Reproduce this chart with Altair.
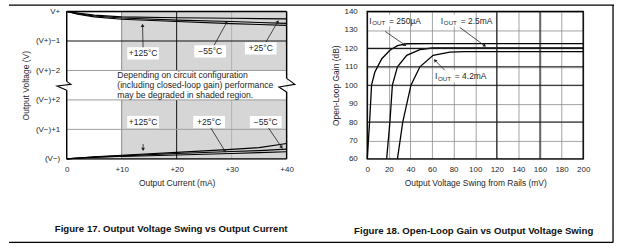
import json
import math
import altair as alt
import pandas as pd

FONT = "Liberation Sans"
INK = "#1f1f1f"

# ---------------- Figure 17: Output Voltage Swing vs Output Current ----------------
current_ma = [0, 2, 5, 10, 20, 30, 35, 40]
high_125 = [5.00, 4.95, 4.88, 4.82, 4.79, 4.77, 4.76, 4.75]
high_25 = [5.00, 4.93, 4.85, 4.78, 4.71, 4.66, 4.63, 4.60]
high_m55 = [5.00, 4.91, 4.82, 4.74, 4.66, 4.59, 4.56, 4.53]
low_125 = [0.00, 0.02, 0.05, 0.08, 0.13, 0.18, 0.21, 0.24]
low_25 = [0.00, 0.03, 0.06, 0.10, 0.18, 0.25, 0.28, 0.33]
low_m55 = [0.00, 0.03, 0.07, 0.12, 0.22, 0.32, 0.38, 0.52]

x17_ticks = [0, 10, 20, 30, 40]
x17_labels = ["0", "+10", "+20", "+30", "+40"]
y17_ticks = [0, 1, 2, 3, 4, 5]
y17_labels = ["(V−)", "(V−)+1", "(V−)+2", "(V+)−2", "(V+)−1", "V+"]

shade_x1 = [10, 10]
shade_x2 = [40, 40]
shade_y1 = [0, 3]
shade_y2 = [2, 5]

vgrid_x = [10, 10, 20, 20, 30, 30]
vgrid_y1 = [0, 3, 0, 3, 0, 3]
vgrid_y2 = [2, 5, 2, 5, 2, 5]
vgrid_col = ["#8a8a8a", "#8a8a8a", "#111111", "#111111", "#b0b0b0", "#b0b0b0"]
hgrid_y = [1, 2, 3, 4]
hgrid_col = ["#a0a0a0", "#9a9a9a", "#9a9a9a", "#111111"]

temp_labels = ["+125°C", "−55°C", "+25°C", "+125°C", "+25°C", "−55°C"]
temp_label_x = [13.9, 26.1, 35.3, 13.9, 25.9, 36.2]
temp_label_y = [3.58, 3.65, 3.75, 1.25, 1.25, 1.25]
arr17_tail_x = [13.9, 26.8, 36.2, 13.9, 26.2, 36.7]
arr17_tail_y = [3.75, 3.85, 3.95, 0.50, 1.05, 1.05]
arr17_head_x = [13.8, 29.1, 38.4, 13.9, 28.8, 39.1]
arr17_head_y = [4.53, 4.63, 4.66, 0.32, 0.26, 0.39]

note_lines = ["Depending on circuit configuration",
              "(including closed-loop gain) performance",
              "may be degraded in shaded region."]
note_x = [9.2, 9.2, 9.2]
note_y = [2.84, 2.50, 2.16]

# plot border with axis breaks
border_x1 = [0, 0, 0, 0, 40, 40]
border_x2 = [40, 40, 0, 0, 40, 40]
border_y1 = [0, 5, 0, 2.63, 0, 2.73]
border_y2 = [0, 5, 2.33, 5, 2.27, 5]
break_grp = ["L", "L", "L", "L", "R", "R", "R", "R"]
break_ord = [0, 1, 2, 3, 0, 1, 2, 3]
break_x = [0, 0.78, -1.75, 0, 40, 41.5, 38.6, 40]
break_y = [2.63, 2.53, 2.47, 2.33, 2.73, 2.53, 2.44, 2.27]

caption17 = "Figure 17. Output Voltage Swing vs Output Current"

# ---------------- Figure 18: Open-Loop Gain vs Output Voltage Swing ----------------
swing_250u = [0, 2.2, 4.0, 7.0, 10.0, 13.5, 21.0, 28.0, 36.6, 60, 200]
gain_250u = [60, 80, 100, 107, 110.5, 114.4, 119.0, 121.5, 122.5, 122.6, 122.6]
swing_2m5 = [18, 21.0, 23.3, 28.0, 36.6, 48.8, 60, 200]
gain_2m5 = [60, 80, 100, 110, 116.2, 119.3, 120.2, 120.3]
swing_4m2 = [28, 32.9, 40.5, 48.8, 61.0, 76.5, 90, 200]
gain_4m2 = [60, 80, 100, 110, 116.2, 118.0, 118.2, 118.2]

x18_ticks = list(range(0, 201, 20))
y18_ticks = list(range(60, 141, 10))
dark_vx = [120, 160]
dark_hy = [80, 100, 110, 120]

iout_text = ["= 250µA", "= 2.5mA", "= 4.2mA"]
iout_x = [1.8, 68.2, 62.7]
iout_y = [135.1, 135.1, 104.9]
arr18_tail_x = [16.6, 85.7, 73.7]
arr18_tail_y = [129.2, 131.4, 107.0]
arr18_head_x = [35.0, 108.8, 62.7]
arr18_head_y = [121.8, 121.4, 113.5]

caption18 = "Figure 18. Open-Loop Gain vs Output Voltage Swing"

W1, H1 = 221, 148
W2, H2 = 217, 148


def arrows(tx, ty, hx, hy, sx, sy):
    rows = []
    for a, b, c, d in zip(tx, ty, hx, hy):
        dxp = (c - a) * sx
        dyp = -(d - b) * sy
        ang = math.degrees(math.atan2(dxp, -dyp)) % 360
        rows.append(dict(tx=a, ty=b, hx=c, hy=d, angle=ang))
    return pd.DataFrame(rows)


def make_axis(values, title, expr=None, lpad=6, tpad=4, grid=False):
    kw = dict(values=values, title=title, ticks=False, domain=False, grid=grid,
              labelFont=FONT, titleFont=FONT, labelFontSize=8, titleFontSize=8.5,
              labelColor=INK, titleColor=INK, titleFontWeight="normal",
              labelPadding=lpad, titlePadding=tpad, labelFlush=False, labelOverlap=False)
    if grid:
        kw.update(gridColor="#8c8c8c", gridWidth=0.8, gridOpacity=1)
    if expr:
        kw["labelExpr"] = expr
    return alt.Axis(**kw)


x17_expr = json.dumps(x17_labels, ensure_ascii=False) + "[round(datum.value/10)]"
y17_expr = json.dumps(y17_labels, ensure_ascii=False) + "[round(datum.value)]"
AX17 = make_axis(x17_ticks, "Output Current (mA)", x17_expr, 7, 5)
AY17 = make_axis(y17_ticks, "Output Voltage (V)", y17_expr, 7, 5)
xs17 = alt.Scale(domain=[0, 40], nice=False, zero=False)
ys17 = alt.Scale(domain=[0, 5], nice=False, zero=False)


def X17(f):
    return alt.X(f, scale=xs17, axis=AX17)


def Y17(f):
    return alt.Y(f, scale=ys17, axis=AY17)


shade = alt.Chart(pd.DataFrame({"x": shade_x1, "x2": shade_x2, "y": shade_y1, "y2": shade_y2})).mark_rect(
    color="#d6d6d6").encode(x=X17("x:Q"), x2="x2:Q", y=Y17("y:Q"), y2="y2:Q")

vgrid = alt.Chart(pd.DataFrame({"x": vgrid_x, "y": vgrid_y1, "y2": vgrid_y2, "c": vgrid_col})).mark_rule(
    strokeWidth=1).encode(x=X17("x:Q"), y=Y17("y:Q"), y2="y2:Q", color=alt.Color("c:N", scale=None))
hgrid = alt.Chart(pd.DataFrame({"y": hgrid_y, "x": [0] * 4, "x2": [40] * 4, "c": hgrid_col})).mark_rule(
    strokeWidth=1).encode(x=X17("x:Q"), x2="x2:Q", y=Y17("y:Q"), color=alt.Color("c:N", scale=None))

curve_rows = []
for name, vals in [("h125", high_125), ("h25", high_25), ("hm55", high_m55),
                   ("l125", low_125), ("l25", low_25), ("lm55", low_m55)]:
    for xv, yv in zip(current_ma, vals):
        curve_rows.append(dict(s=name, x=xv, y=yv))
curves17 = alt.Chart(pd.DataFrame(curve_rows)).mark_line(color="#000", strokeWidth=1.1).encode(
    x=X17("x:Q"), y=Y17("y:Q"), detail="s:N")

a17 = arrows(arr17_tail_x, arr17_tail_y, arr17_head_x, arr17_head_y, W1 / 40, H1 / 5)
arr17_line = alt.Chart(a17).mark_rule(color=INK, strokeWidth=0.8).encode(
    x=X17("tx:Q"), y=Y17("ty:Q"), x2="hx:Q", y2="hy:Q")
arr17_head = alt.Chart(a17).mark_point(shape="triangle-up", filled=True, size=14, color=INK, opacity=1).encode(
    x=X17("hx:Q"), y=Y17("hy:Q"), angle=alt.Angle("angle:Q", scale=None))

lab17 = pd.DataFrame({"t": temp_labels, "x": temp_label_x, "y": temp_label_y})
lab17_bg = alt.Chart(lab17).mark_point(shape="M-1.3,-0.5H1.3V0.5H-1.3Z", size=600, filled=True,
                                        color="#ffffff", opacity=1).encode(x=X17("x:Q"), y=Y17("y:Q"))
lab17_txt = alt.Chart(lab17).mark_text(font=FONT, fontSize=8.6, color=INK, baseline="middle").encode(
    x=X17("x:Q"), y=Y17("y:Q"), text="t:N")

note = alt.Chart(pd.DataFrame({"t": note_lines, "x": note_x, "y": note_y})).mark_text(
    font=FONT, fontSize=8.7, color=INK, align="left", baseline="middle").encode(
    x=X17("x:Q"), y=Y17("y:Q"), text="t:N")

border17 = alt.Chart(pd.DataFrame({"x": border_x1, "x2": border_x2, "y": border_y1, "y2": border_y2})).mark_rule(
    color="#000", strokeWidth=1.4).encode(x=X17("x:Q"), x2="x2:Q", y=Y17("y:Q"), y2="y2:Q")
breaks = alt.Chart(pd.DataFrame({"g": break_grp, "o": break_ord, "x": break_x, "y": break_y})).mark_line(
    color="#000", strokeWidth=1.1).encode(x=X17("x:Q"), y=Y17("y:Q"), detail="g:N", order="o:Q")

one = pd.DataFrame({"a": [0]})
frame_top = alt.Chart(one).mark_rule(color="#000", strokeWidth=1.3).encode(
    x=alt.value(-58), x2=alt.value(550), y=alt.value(-6.5))
frame_bot = alt.Chart(one).mark_rule(color="#000", strokeWidth=1.3).encode(
    x=alt.value(-58), x2=alt.value(549), y=alt.value(232))
frame_right = alt.Chart(one).mark_rule(color="#000", strokeWidth=1.3).encode(
    x=alt.value(549), y=alt.value(-6.5), y2=alt.value(232))
cap17 = alt.Chart(pd.DataFrame({"t": [caption17]})).mark_text(
    font=FONT, fontSize=9.7, fontWeight="bold", color="#111", baseline="middle").encode(
    x=alt.value(105), y=alt.value(219), text="t:N")

left = alt.layer(shade, vgrid, hgrid, curves17, arr17_line, arr17_head, lab17_bg, lab17_txt, note,
                 border17, breaks, frame_top, frame_bot, frame_right, cap17).properties(width=W1, height=H1)

# ---------------- right panel ----------------
xs18 = alt.Scale(domain=[0, 200], nice=False, zero=False)
ys18 = alt.Scale(domain=[60, 140], nice=False, zero=False)
AX18 = make_axis(x18_ticks, "Output Voltage Swing from Rails (mV)", None, 7, 5, grid=True)
AY18 = make_axis(y18_ticks, "Open-Loop Gain (dB)", None, 10, 4, grid=True)


def X18(f):
    return alt.X(f, scale=xs18, axis=AX18)


def Y18(f):
    return alt.Y(f, scale=ys18, axis=AY18)


rows18 = []
for name, xv, yv in [("a", swing_250u, gain_250u), ("b", swing_2m5, gain_2m5), ("c", swing_4m2, gain_4m2)]:
    for i, (p, q) in enumerate(zip(xv, yv)):
        rows18.append(dict(s=name, o=i, x=p, y=q))
curves18 = alt.Chart(pd.DataFrame(rows18)).mark_line(color="#000", strokeWidth=1.3).encode(
    x=X18("x:Q"), y=Y18("y:Q"), detail="s:N", order="o:Q")

dark_v = alt.Chart(pd.DataFrame({"x": dark_vx})).mark_rule(color="#1a1a1a", strokeWidth=1.1).encode(
    x=X18("x:Q"))
dark_h = alt.Chart(pd.DataFrame({"y": dark_hy})).mark_rule(color="#1a1a1a", strokeWidth=1.1).encode(
    y=Y18("y:Q"))
box18 = alt.Chart(pd.DataFrame({"x": [0], "x2": [200], "y": [60], "y2": [140]})).mark_rect(
    filled=False, stroke="#000", strokeWidth=1.4).encode(x=X18("x:Q"), x2="x2:Q", y=Y18("y:Q"), y2="y2:Q")

a18 = arrows(arr18_tail_x, arr18_tail_y, arr18_head_x, arr18_head_y, W2 / 200, H2 / 80)
arr18_line = alt.Chart(a18).mark_rule(color=INK, strokeWidth=0.8).encode(
    x=X18("tx:Q"), y=Y18("ty:Q"), x2="hx:Q", y2="hy:Q")
arr18_head = alt.Chart(a18).mark_point(shape="triangle-up", filled=True, size=14, color=INK, opacity=1).encode(
    x=X18("hx:Q"), y=Y18("hy:Q"), angle=alt.Angle("angle:Q", scale=None))

lab18 = pd.DataFrame({"t": iout_text, "x": iout_x, "y": iout_y})
lab18_bg = alt.Chart(lab18).mark_point(shape="M0,-0.5H2.1V0.5H0Z", size=576, filled=True,
                                        color="#ffffff", opacity=1).encode(x=X18("x:Q"), y=Y18("y:Q"))
lab18_i = alt.Chart(lab18).mark_text(font=FONT, fontSize=8.5, color=INK, align="left", baseline="middle").encode(
    x=X18("x:Q"), y=Y18("y:Q"), text=alt.value("I"))
lab18_sub = alt.Chart(lab18).mark_text(font=FONT, fontSize=6.2, color=INK, align="left", baseline="middle",
                                       dx=3, dy=2.5).encode(x=X18("x:Q"), y=Y18("y:Q"), text=alt.value("OUT"))
lab18_val = alt.Chart(lab18).mark_text(font=FONT, fontSize=8.5, color=INK, align="left", baseline="middle",
                                       dx=20).encode(x=X18("x:Q"), y=Y18("y:Q"), text="t:N")

cap18 = alt.Chart(pd.DataFrame({"t": [caption18]})).mark_text(
    font=FONT, fontSize=9.7, fontWeight="bold", color="#111", baseline="middle").encode(
    x=alt.value(107), y=alt.value(221), text="t:N")

right = alt.layer(curves18, dark_v, dark_h, box18, arr18_line, arr18_head, lab18_bg, lab18_i, lab18_sub,
                  lab18_val, cap18).properties(width=W2, height=H2)

chart = alt.hconcat(left, right, spacing=81, bounds="flush").properties(
    padding={"left": 7, "top": 3, "right": 4, "bottom": 4}
).configure_view(stroke=None).configure(font=FONT).configure_axis(labelOverlap=False)

chart.save("out.html", embed_options={"renderer": "svg", "actions": False})
